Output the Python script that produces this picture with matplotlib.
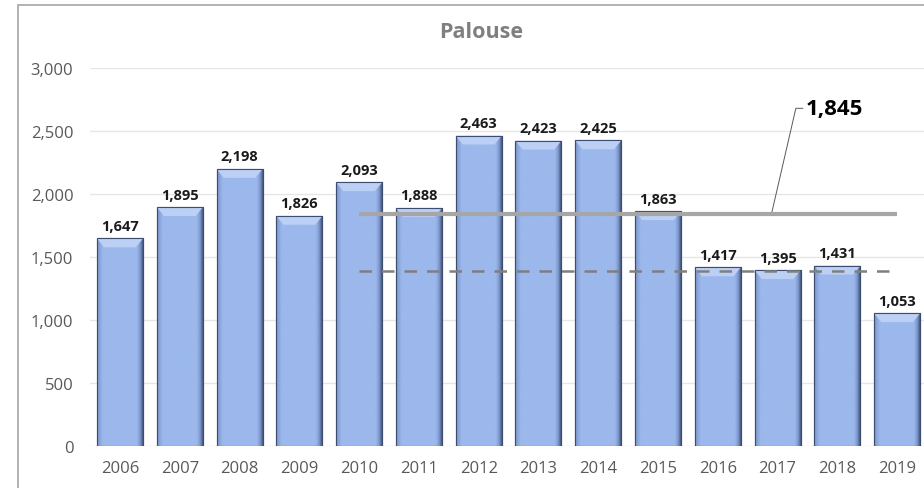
import numpy as np
import matplotlib.pyplot as plt
from matplotlib.patches import Rectangle, Polygon

years = ["2006", "2007", "2008", "2009", "2010", "2011", "2012",
         "2013", "2014", "2015", "2016", "2017", "2018", "2019"]
values = [1647, 1895, 2198, 1826, 2093, 1888, 2463,
          2423, 2425, 1863, 1417, 1395, 1431, 1053]
avg_all = 1845        # solid reference line
avg_recent = 1390     # dashed reference line
line_start = "2010"

plt.rcParams['font.family'] = ['Open Sans', 'DejaVu Sans']

fig = plt.figure(figsize=(9.24, 4.89), dpi=100)
W, H = 924, 489
ax = fig.add_axes([90 / W, 1 - 447 / H, (W - 90) / W, (447 - 69) / H])

# chart border (top and left edges visible)
fig.patches.append(Rectangle((18 / W, -0.1), 1.2, 1 - 6 / H + 0.1, transform=fig.transFigure,
                             fill=False, edgecolor='#a6a6a6', linewidth=1.2, zorder=0))

x = np.arange(len(years))
bw = 0.77
bars = ax.bar(x, values, width=bw, color='#9ab6ea', edgecolor='#44557a', linewidth=0.8, zorder=2)

# horizontal shading to fake the bevel look: flat middle, dark edges (right darker)
g = np.linspace(0, 1, 100)
shade = np.ones_like(g)
shade = np.minimum(shade, np.clip(g / 0.12, 0, 1) * 0.55 + 0.45)
shade = np.minimum(shade, np.clip((1 - g) / 0.15, 0, 1))
cmap = plt.matplotlib.colors.LinearSegmentedColormap.from_list('b', ['#34446a', '#7d98cc', '#9cb8ec'])
for b in bars:
    x0, w, h = b.get_x(), b.get_width(), b.get_height()
    im = ax.imshow(shade[None, :], extent=(x0, x0 + w, 0, h), aspect='auto', cmap=cmap,
                   vmin=0, vmax=1, zorder=2.1, interpolation='bicubic')
    im.set_clip_path(b)
    bev = 70
    ins = 0.12
    ax.add_patch(Polygon([(x0, h), (x0 + w, h), (x0 + w - ins, h - bev), (x0 + ins, h - bev)],
                         closed=True, facecolor='#bcd0f5', edgecolor='none', zorder=2.2))
    ax.add_patch(Rectangle((x0, 0), w, h, fill=False, edgecolor='#3d4d70', linewidth=0.8, zorder=2.3))
    ax.text(x0 + w / 2, h + 45, f"{h:,.0f}", ha='center', va='bottom', fontsize=10.5,
            fontweight='bold', color='#1a1a1a', zorder=3)

xs = years.index(line_start)
ax.plot([xs, len(years) - 1], [avg_all, avg_all], color='#a6a6a6', linewidth=3, zorder=4,
        solid_capstyle='butt')
ax.plot([xs, len(years) - 1], [avg_recent, avg_recent], color='#7f7f7f', linewidth=1.8,
        linestyle=(0, (5, 4)), zorder=4)

ax.annotate(f"{avg_all:,}", xy=(10.9, avg_all), xytext=(11.47, 2680), fontsize=16,
            fontweight='bold', color='#000000', va='center', ha='left',
            arrowprops=dict(arrowstyle='-', color='#595959', linewidth=0.7,
                            connectionstyle='angle,angleA=0,angleB=77,rad=0',
                            shrinkA=0, shrinkB=0))

ax.set_xlim(-0.502, 13.45)
ax.set_ylim(0, 3000)
ax.set_yticks(range(0, 3001, 500))
ax.set_yticklabels([f"{v:,}" for v in range(0, 3001, 500)])
ax.set_xticks(x)
ax.set_xticklabels(years)
ax.tick_params(axis='both', length=0, labelsize=12, colors='#595959')
ax.tick_params(axis='y', pad=12)
ax.tick_params(axis='x', pad=10)
ax.grid(axis='y', color='#e6e6e6', linewidth=1, zorder=0)
ax.set_axisbelow(True)
for s in ax.spines.values():
    s.set_visible(False)

fig.text(481 / W, 1 - 33 / H, "Palouse", ha='center', va='center', fontsize=15.5,
         fontweight='bold', color='#7f7f7f')

fig.savefig("out.png", dpi=100)
